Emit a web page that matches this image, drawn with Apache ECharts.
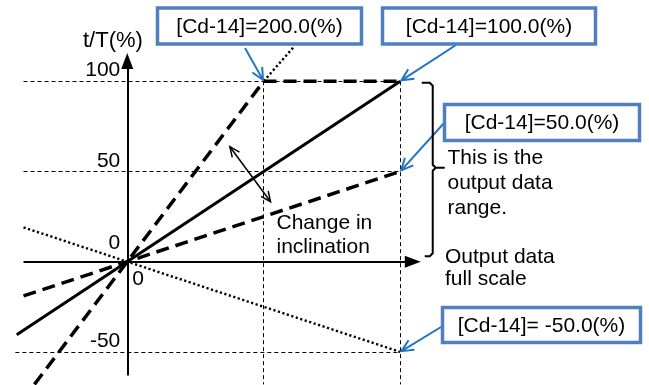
<!DOCTYPE html>
<html><head><meta charset="utf-8">
<script src="https://cdn.jsdelivr.net/npm/echarts@6/dist/echarts.min.js"></script>
<style>html,body{margin:0;padding:0;background:#fff}#c{width:649px;height:385px}</style>
</head><body><div id="c"></div>
<script>
// ---- data ----
const xLabels = [0];
const yLabels = [-50, 0, 50, 100];
const yAxisTitle = 't/T(%)';
const gainLabels = ['[Cd-14]=200.0(%)', '[Cd-14]=100.0(%)', '[Cd-14]=50.0(%)', '[Cd-14]= -50.0(%)'];
const gainTips = [[50, 100], [100, 100], [100, 50], [100, -50]];
const line200 = [[-34, -68], [50, 100], [100, 100]];
const line200Over = [[50, 100], [61, 119]];
const line100 = [[-40.5, -40.5], [100, 100]];
const line50 = [[-38, -19], [100, 50]];
const lineNeg50 = [[-38, 19], [100, -50]];
const guideLines = [
  [[-38, 100], [100, 100]],
  [[-38, 50], [100, 50]],
  [[-41, -50], [100, -50]],
  [[50, 100], [50, -68]],
  [[100, 100], [100, -68]]
];
const xAxisLine = [[-38, 0], [104.6, 0]];
const yAxisLine = [[0, -63], [0, 111.2]];
const changeArrow = [[37.6, 63.7], [52.5, 33.2]];
const bracketRange = [100, 3];
const changeText = ['Change in', 'inclination'];
const rangeText = ['This is the', 'output data', 'range.'];
const fullText = ['Output data', 'full scale'];

const X_MIN = -42, X_MAX = 107.5, Y_MIN = -68, Y_MAX = 116;
const FONT = "'Liberation Sans', Arial, sans-serif";
const FS = 21;
const GRID = {left: 12.6, width: 408.1, top: 52.3, height: 332.1};
const pxPerX = GRID.width / (X_MAX - X_MIN), pxPerY = GRID.height / (Y_MAX - Y_MIN);
const yAxisOffset = -(0 - X_MIN) * pxPerX;
const xAxisOffset = -(0 - Y_MIN) * pxPerY;

const chart = echarts.init(document.getElementById('c'), null, {renderer: 'canvas'});

function lineSeries(data, width, type, z) {
  return {
    type: 'line', data: data, showSymbol: false, symbol: 'none', clip: false, z: z || 3,
    lineStyle: {color: '#000', width: width, type: type, cap: 'butt'},
    emphasis: {disabled: true}, silent: true
  };
}

const option = {
  animation: false,
  backgroundColor: '#fff',
  grid: Object.assign({containLabel: false, outerBoundsMode: 'none'}, GRID),
  xAxis: {
    type: 'value', min: X_MIN, max: X_MAX, position: 'bottom', offset: xAxisOffset,
    axisLine: {show: false, onZero: false}, axisTick: {show: false}, splitLine: {show: false},
    axisLabel: {customValues: xLabels, color: '#000', fontSize: FS, fontFamily: FONT, align: 'left', padding: [0, 0, 0, 5], margin: 7}
  },
  yAxis: {
    type: 'value', min: Y_MIN, max: Y_MAX, position: 'left', offset: yAxisOffset,
    axisLine: {show: false, onZero: false}, axisTick: {show: false}, splitLine: {show: false},
    axisLabel: {
      customValues: yLabels, color: '#000', fontSize: FS, fontFamily: FONT, verticalAlign: 'bottom', margin: 7,
      formatter: v => v === 0 ? '{z|0}' : '{n|' + v + '}',
      rich: {
        z: {fontSize: FS, fontFamily: FONT, color: '#000', padding: [0, 0, 8, 0]},
        n: {fontSize: FS, fontFamily: FONT, color: '#000'}
      }
    }
  },
  series: [
    {
      type: 'line', data: [], silent: true, clip: false, z: 1,
      markLine: {
        silent: true, symbol: 'none', animation: false,
        label: {show: false},
        lineStyle: {color: '#000', width: 1, type: [4, 3]},
        data: guideLines.map(g => [{coord: g[0]}, {coord: g[1]}])
      }
    },
    {
      type: 'line', data: [], silent: true, clip: false, z: 2,
      markLine: {
        silent: true, symbol: ['none', 'triangle'], symbolSize: [12, 16], animation: false,
        label: {show: false},
        lineStyle: {color: '#000', width: 2, type: 'solid'},
        data: [xAxisLine, yAxisLine].map(g => [{coord: g[0]}, {coord: g[1]}])
      }
    },
    lineSeries(line100, 3, 'solid', 4),
    lineSeries(line200, 3.5, [13, 7], 4),
    lineSeries(line50, 3.5, [13, 7], 4),
    lineSeries(lineNeg50, 2.4, [2.2, 2.5], 4),
    lineSeries(line200Over, 2.4, [2.2, 2.5], 4)
  ]
};
chart.setOption(option);

function arrowEls(x1, y1, x2, y2, color, lw, head, ang, both) {
  const a = Math.atan2(y2 - y1, x2 - x1);
  const els = [{type: 'line', shape: {x1: x1, y1: y1, x2: x2, y2: y2}, style: {stroke: color, lineWidth: lw}, z: 20}];
  const headAt = (x, y, dir) => ({
    type: 'polyline', z: 20,
    shape: {points: [[x - head * Math.cos(dir - ang), y - head * Math.sin(dir - ang)], [x, y], [x - head * Math.cos(dir + ang), y - head * Math.sin(dir + ang)]]},
    style: {stroke: color, lineWidth: lw, fill: null}
  });
  els.push(headAt(x2, y2, a));
  if (both) els.push(headAt(x1, y1, a + Math.PI));
  return els;
}
function txt(x, y, text, align, lh) {
  return {type: 'text', x: x, y: y, z: 30,
    style: {text: text, font: FS + 'px ' + FONT, fill: '#000', align: align, textAlign: align,
      verticalAlign: 'middle', textVerticalAlign: 'middle', lineHeight: lh || FS}};
}

const px = p => chart.convertToPixel({gridIndex: 0}, p);
const els = [];
const boxes = [
  {x: 157.5, y: 8, w: 204, h: 36, start: [245, 48]},
  {x: 382.5, y: 8, w: 213, h: 36, start: [456, 45]},
  {x: 444.5, y: 104.5, w: 195, h: 36, start: [445, 122]},
  {x: 442.5, y: 307.5, w: 198, h: 35, start: [441, 327]}
];
const BLUE_BORDER = '#4f7fbf', BLUE_ARROW = '#1f74c4';
boxes.forEach((b, i) => {
  els.push({type: 'rect', z: 25, shape: {x: b.x, y: b.y, width: b.w, height: b.h},
    style: {fill: '#fff', stroke: BLUE_BORDER, lineWidth: 3.5}});
  els.push(txt(b.x + b.w / 2, b.y + b.h / 2 + 1, gainLabels[i], 'center'));
  const t = px(gainTips[i]);
  const dx = b.start[0] - t[0], dy = b.start[1] - t[1], d = Math.hypot(dx, dy);
  els.push(...arrowEls(b.start[0], b.start[1], t[0] + dx / d * 1.5, t[1] + dy / d * 1.5, BLUE_ARROW, 2, 13, 0.45, false));
});
const c1 = px(changeArrow[0]), c2 = px(changeArrow[1]);
els.push(...arrowEls(c1[0], c1[1], c2[0], c2[1], '#000', 1.5, 11, 0.42, true));
const bTop = px([100, bracketRange[0]]), bBot = px([100, bracketRange[1]]);
const bMidY = (bTop[1] + bBot[1]) / 2 - 1;
const bx = bTop[0] + 32.5;
els.push({type: 'polyline', z: 20, shape: {points: [[bTop[0] + 21.5, bTop[1] + 1.5], [bx - 3, bTop[1] + 1.5], [bx, bTop[1] + 4.5], [bx, bMidY - 3], [bx + 3, bMidY], [bx + 12, bMidY], [bx + 3, bMidY], [bx, bMidY + 3], [bx, bBot[1] - 3], [bx - 3, bBot[1]], [bTop[0] + 24.5, bBot[1]]]},
  style: {stroke: '#000', lineWidth: 2, fill: null}});
els.push({type: 'text', x: 83, y: 41, z: 30, style: {text: yAxisTitle, font: '22px ' + FONT, fill: '#000', align: 'left', textAlign: 'left', verticalAlign: 'middle', textVerticalAlign: 'middle'}});
changeText.forEach((s, i) => els.push(txt(276.5, 223 + i * 24.5, s, 'left')));
rangeText.forEach((s, i) => els.push(txt(447.5, 158 + i * 25, s, 'left')));
fullText.forEach((s, i) => els.push(txt(445, 257.5 + i * 22, s, 'left')));

chart.setOption({graphic: {elements: els}});
</script>
</body></html>
